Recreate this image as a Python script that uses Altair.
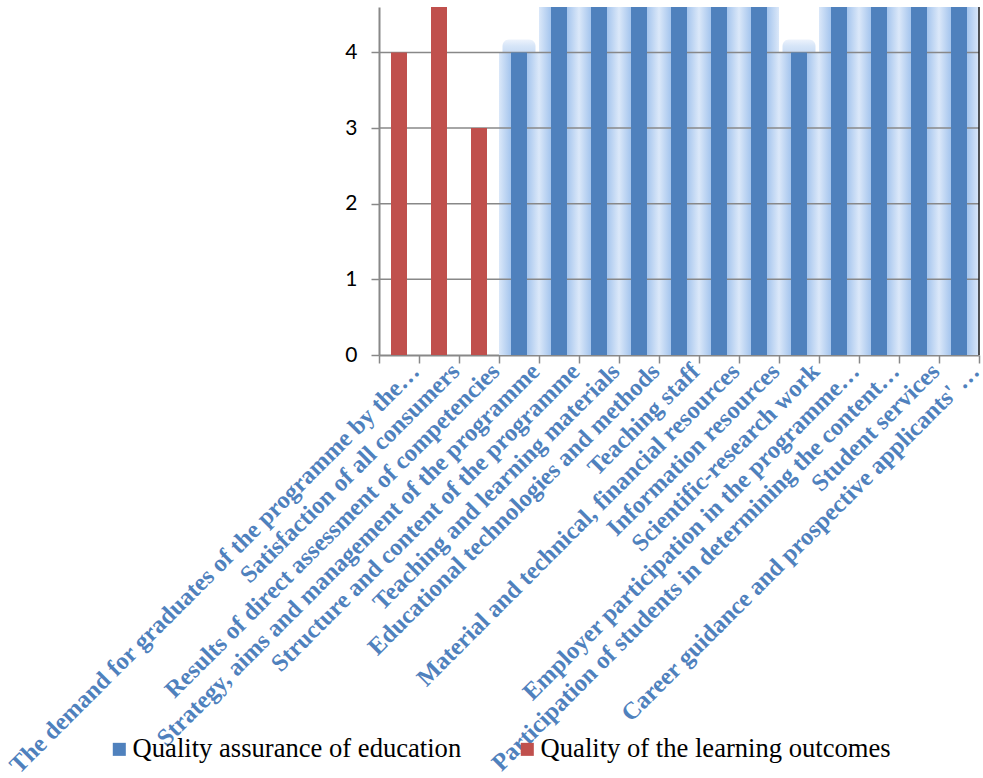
import altair as alt
import pandas as pd

categories = [
    "The demand for graduates of the programme by the…",
    "Satisfaction of all consumers",
    "Results of direct assessment of competencies",
    "Strategy, aims and management of the programme",
    "Structure and content of the programme",
    "Teaching and learning materials",
    "Educational technologies and methods",
    "Teaching staff",
    "Material and technical, financial resources",
    "Information resources",
    "Scientific-research work",
    "Employer participation in the programme…",
    "Participation of students in determining the content…",
    "Student services",
    "Career guidance and prospective applicants' …",
]
values = [4, 5, 3, 4, 5, 5, 5, 5, 5, 5, 4, 5, 5, 5, 5]
S_BLUE = "Quality assurance of education"
S_RED = "Quality of the learning outcomes"
series = [S_RED, S_RED, S_RED,
          S_BLUE, S_BLUE, S_BLUE, S_BLUE, S_BLUE, S_BLUE,
          S_BLUE, S_BLUE, S_BLUE, S_BLUE, S_BLUE, S_BLUE]
grid_values = [1, 2, 3, 4]
y_ticks = [0, 1, 2, 3, 4]

BLUE = "#4f81bd"
RED = "#c0504d"
GRID = "#888888"

df = pd.DataFrame({"category": categories, "value": values, "series": series})
grid_df = pd.DataFrame({"g": grid_values})

x_scale = alt.Scale(domain=categories, paddingInner=0, paddingOuter=0)
y_scale = alt.Scale(domain=[0, 4.6], nice=False, zero=True)

x_axis = alt.Axis(
    title=None, labelAngle=-45, labelAlign="right", labelBaseline="top",
    labelFont="Liberation Serif", labelFontWeight="bold", labelFontSize=24.5,
    labelColor=BLUE, labelLimit=0, labelOverlap=False, labelPadding=-4,
    labelOffset=8,
    domainColor=GRID, domainWidth=2, tickColor=GRID, tickWidth=1.5,
    tickSize=8, tickBand="extent", grid=False,
)
y_axis = alt.Axis(
    title=None, values=y_ticks, labelFont="Lato", labelFontSize=21,
    labelColor="black", labelPadding=14, tickSize=8, tickColor=GRID,
    tickWidth=1.5, domainColor=GRID, domainWidth=2, grid=False,
)

glow_gradient = alt.LinearGradient(
    gradient="linear", x1=0, x2=1, y1=0, y2=0,
    stops=[
        alt.GradientStop(offset=0, color="#dbe8f9"),
        alt.GradientStop(offset=0.28, color="#a8c7ee"),
        alt.GradientStop(offset=0.72, color="#a8c7ee"),
        alt.GradientStop(offset=1, color="#dbe8f9"),
    ],
)
hump_gradient = alt.LinearGradient(
    gradient="linear", x1=0, x2=0, y1=0, y2=1,
    stops=[
        alt.GradientStop(offset=0, color="#edf3fc"),
        alt.GradientStop(offset=0.5, color="#d6e5f8"),
        alt.GradientStop(offset=1, color="#c9dcf4"),
    ],
)

blue_only = alt.datum.series == S_BLUE

glow = alt.Chart(df).transform_filter(blue_only).mark_bar(
    width=alt.RelativeBandSize(1.0), fill=glow_gradient, clip=True,
).encode(
    x=alt.X("category:N", scale=x_scale, axis=x_axis),
    y=alt.Y("value:Q", scale=y_scale, axis=y_axis),
)

# soft halo just above the top of each blue bar
hump = alt.Chart(df).transform_filter(blue_only).transform_calculate(
    halo_top="datum.value + 0.17"
).mark_bar(
    size=33, fill=hump_gradient, cornerRadiusTopLeft=12,
    cornerRadiusTopRight=12, clip=True,
).encode(
    x=alt.X("category:N", scale=x_scale, axis=x_axis),
    y=alt.Y("halo_top:Q", scale=y_scale, axis=y_axis),
    y2=alt.Y2("value:Q"),
)

grid = alt.Chart(grid_df).mark_rule(color=GRID, strokeWidth=1.5).encode(
    y=alt.Y("g:Q", scale=y_scale, axis=y_axis),
)

bars = alt.Chart(df).mark_bar(
    width=alt.RelativeBandSize(0.4), clip=True,
).encode(
    x=alt.X("category:N", scale=x_scale, axis=x_axis),
    y=alt.Y("value:Q", scale=y_scale, axis=y_axis),
    color=alt.Color(
        "series:N",
        scale=alt.Scale(domain=[S_BLUE, S_RED], range=[BLUE, RED]),
        legend=alt.Legend(
            title=None, orient="none", legendX=-273, legendY=729,
            direction="horizontal", symbolType="square", symbolSize=170,
            symbolStrokeWidth=0, labelFont="Liberation Serif",
            labelFontSize=26.6, labelColor="black", columnPadding=52,
            labelOffset=0, labelLimit=0,
        ),
    ),
)

border = alt.Chart(df).transform_filter(
    alt.datum.category == categories[-1]
).mark_rule(color="#1a1a1a", strokeWidth=1.5).encode(
    x=alt.X("category:N", scale=x_scale, axis=x_axis, bandPosition=1),
)

chart = alt.layer(glow, hump, grid, bars, border).properties(
    width=600, height=348,
    padding={"left": 379, "top": 7, "right": 4, "bottom": 423},
    autosize=alt.AutoSizeParams(type="none"),
).configure_view(stroke=None)

chart.save("out.html", embed_options={"renderer": "svg", "actions": False})
